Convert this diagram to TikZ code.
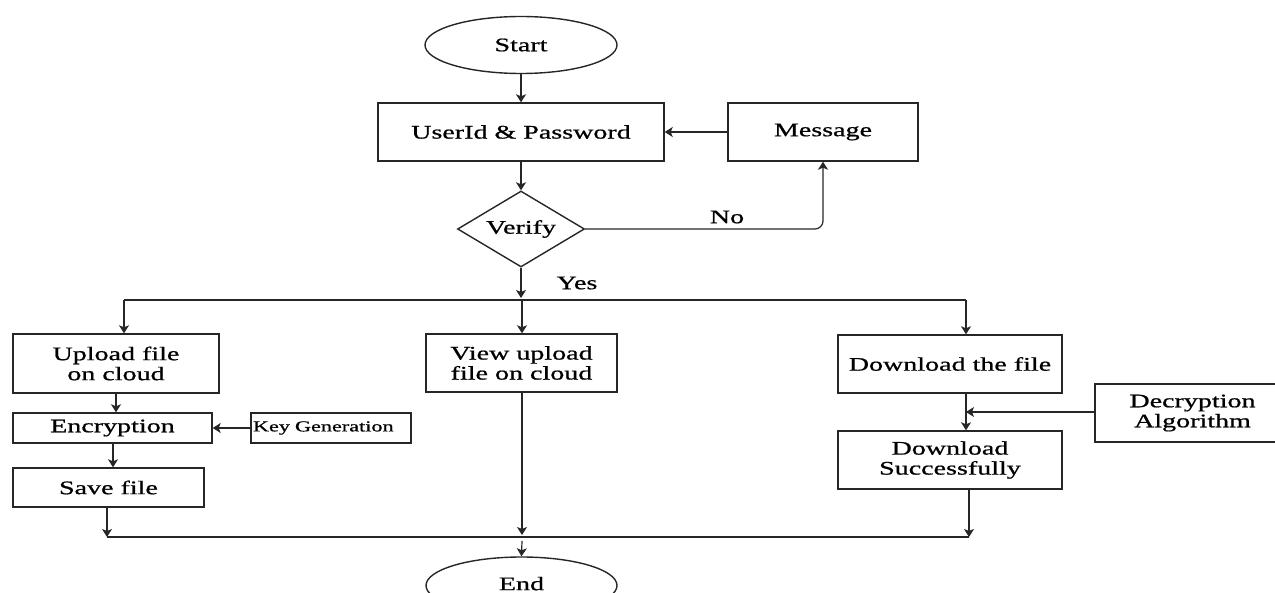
\documentclass[tikz,border=0pt]{standalone}
\usepackage{fontspec}
\setmainfont[FakeStretch=1.46,FakeBold=0.8]{Liberation Serif}
\usetikzlibrary{shapes.geometric,arrows.meta}
\begin{document}
\begin{tikzpicture}[x=0.5pt,y=-0.5pt,
  line width=0.6pt,
  flow/.style={draw=black!85,line width=0.6pt},
  arr/.style={flow,-{Stealth[length=4pt,width=5pt,inset=1pt]}},
  box/.style={draw=black!85,line width=0.7pt,rectangle,inner sep=0pt,align=center,
    font=\fontsize{9.6pt}{10pt}\selectfont},
  oval/.style={draw=black!85,line width=0.7pt,ellipse,inner sep=0pt,
    minimum width=96pt,minimum height=28.5pt,font=\fontsize{9.6pt}{10pt}\selectfont},
  small/.style={box,font=\fontsize{7.6pt}{8pt}\selectfont}]
\useasboundingbox (0,0) rectangle (1275,593);

% main flow
\node[oval] (start) at (521,45) {Start};
\node[box,minimum width=143pt,minimum height=29pt] (uid) at (521,132) {UserId \& Password};
\node[box,minimum width=95pt,minimum height=29pt] (msg) at (823,132) {Message};
\node[draw=black!85,line width=0.7pt,diamond,shape aspect=1.67,inner sep=0pt,
  minimum width=63.5pt,minimum height=38pt,font=\fontsize{9.6pt}{10pt}\selectfont]
  (verify) at (521,229) {Verify};

% three branches
\node[box,minimum width=103pt,minimum height=29.5pt] (upload) at (116,363.5) {Upload file\\on cloud};
\node[box,minimum width=99.5pt,minimum height=15pt] (enc) at (112.5,428) {Encryption};
\node[small,minimum width=80pt,minimum height=15pt,text width=78pt,align=left] (key) at (331,428) {Key Generation};
\node[box,minimum width=95.5pt,minimum height=19.5pt] (save) at (108.5,487.5) {Save file};
\node[box,minimum width=95.5pt,minimum height=29pt] (view) at (521.5,363) {View upload\\file on cloud};
\node[box,minimum width=112pt,minimum height=29pt] (dl) at (950,364) {Download the file};
\node[box,minimum width=112pt,minimum height=29pt] (dls) at (950,460) {Download\\Successfully};
\node[box,minimum width=97.5pt,minimum height=29pt,text width=95pt] (dec) at (1192.5,413) {Decryption\\Algorithm};
\node[oval,minimum width=95.5pt] (end) at (521.5,585.5) {\raisebox{2pt}{End}};

% junction points
\coordinate (split) at (521,300);
\coordinate (sl) at (124,300);
\coordinate (sm) at (522,300);
\coordinate (sr) at (966,300);
\coordinate (jl) at (107,537);
\coordinate (jm) at (522,537);
\coordinate (jr) at (969,537);
\coordinate (jd) at (966,412);
\coordinate (nocorner) at (823,229);

% connectors
\draw[arr] (start) -- (uid);
\draw[arr] (uid) -- (verify);
\draw[arr] (msg) -- (uid);
\draw[arr,rounded corners=4pt] (verify.east) -- (nocorner) -- (msg.south);
\node[font=\fontsize{9.6pt}{10pt}\selectfont] (nolab) at (727,217) {No};
\draw[arr] (verify.south) -- ([yshift=1pt]split);
\node[font=\fontsize{9.6pt}{10pt}\selectfont] (yeslab) at (577,283) {Yes};

\draw[flow] (sl) -- (sr);
\draw[arr] (sl) -- (sl |- upload.north);
\draw[arr] (sm) -- (sm |- view.north);
\draw[arr] (sr) -- (sr |- dl.north);

\draw[arr] (upload.south) -- (upload.south |- enc.north);
\draw[arr] (key) -- (enc);
\draw[arr] (enc.south -| 113,0) -- (save.north -| 113,0);
\draw[arr] (save.south -| jl) -- (jl);
\draw[arr] (view.south -| jm) -- ([yshift=1pt]jm);
\draw[arr] ([yshift=-2pt]jm) -- (end.north);

\draw[arr] (dl.south -| sr) -- (dls.north -| sr);
\draw[arr] (dec.west |- jd) -- (jd);
\draw[arr] (dls.south -| jr) -- (jr);
\draw[flow] (jl) -- (jr);
\end{tikzpicture}
\end{document}
